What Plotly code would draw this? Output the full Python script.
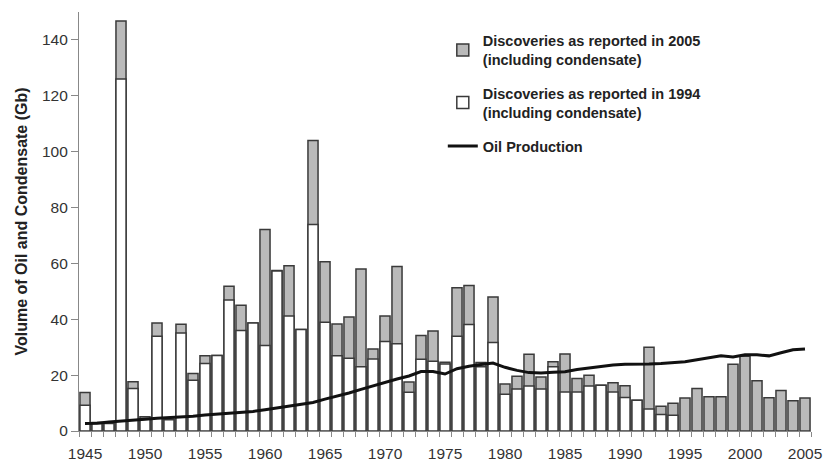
import plotly.graph_objects as go

years = list(range(1945, 2006))

reported_2005 = [13.8, 3.0, 3.0, 146.8, 17.6, 5.1, 38.7, 4.2, 38.2, 20.6,
                 26.9, 27.0, 51.8, 45.0, 38.7, 72.1, 57.5, 59.2, 36.3, 104.0,
                 60.6, 38.3, 40.8, 58.0, 29.4, 41.2, 58.9, 17.5, 34.2, 35.8,
                 24.6, 51.3, 52.1, 24.5, 48.0, 16.8, 19.6, 27.5, 19.3, 24.8,
                 27.6, 18.8, 20.0, 16.4, 17.3, 16.2, 11.0, 30.0, 8.9, 9.9,
                 11.8, 15.2, 12.3, 12.3, 23.9, 26.8, 18.0, 11.9, 14.5, 10.8,
                 11.8]

reported_1994 = [9.2, 2.7, 2.7, 126.0, 15.2, 4.5, 33.9, 4.0, 35.1, 18.2,
                 24.2, 27.0, 46.9, 36.0, 38.7, 30.6, 57.3, 41.2, 36.3, 73.9,
                 38.9, 26.9, 26.0, 23.0, 25.8, 32.0, 31.2, 13.9, 25.7, 25.0,
                 24.0, 33.9, 38.1, 23.0, 31.7, 13.2, 15.0, 16.1, 15.0, 23.0,
                 14.0, 14.0, 16.1, 16.4, 14.0, 12.0, 11.0, 7.9, 5.9, 5.6,
                 None, None, None, None, None, None, None, None, None, None,
                 None]

oil_production = [2.7, 2.8, 3.2, 3.5, 3.7, 4.2, 4.6, 4.8, 5.0, 5.3,
                  5.7, 6.0, 6.3, 6.5, 7.0, 7.6, 8.2, 8.9, 9.5, 10.2,
                  11.4, 12.4, 13.6, 14.9, 16.2, 17.5, 18.6, 19.7, 21.3, 21.3,
                  20.4, 22.3, 23.2, 23.8, 24.3, 22.8, 21.7, 20.9, 20.8, 21.0,
                  21.2, 22.0, 22.6, 23.2, 23.6, 23.9, 23.9, 24.0, 24.2, 24.4,
                  24.8, 25.5, 26.3, 26.9, 26.5, 27.3, 27.3, 26.9, 28.0, 29.1,
                  29.4]

x_tick_labels = [1945, 1950, 1955, 1960, 1965, 1970, 1975, 1980, 1985, 1990, 1995, 2000, 2005]
y_tick_values = [0, 20, 40, 60, 80, 100, 120, 140]

FONT = "Liberation Sans, Arial, sans-serif"
OUTLINE = "#3a3a3a"

fig = go.Figure()
fig.add_trace(go.Bar(
    x=years, y=reported_2005,
    name="Discoveries as reported in 2005<br>(including condensate)",
    legendgroup="g2005",
    marker=dict(color="#bababa", line=dict(color=OUTLINE, width=1.5)),
    width=0.84,
))
fig.add_trace(go.Bar(
    x=years, y=reported_1994,
    name="Discoveries as reported in 1994<br>(including condensate)",
    legendgroup="g1994",
    marker=dict(color="#ffffff", line=dict(color=OUTLINE, width=1.5)),
    width=0.84,
))
fig.add_trace(go.Scatter(
    x=years, y=oil_production, mode="lines",
    name="Oil Production",
    legendgroup="gprod",
    line=dict(color="#111111", width=3),
))

fig.update_layout(
    barmode="overlay",
    width=825, height=465,
    margin=dict(l=79, r=14, t=12, b=34),
    paper_bgcolor="white", plot_bgcolor="white",
    font=dict(family=FONT, color="#333333"),
    legend=dict(
        x=0.497, y=0.97, xanchor="left", yanchor="top",
        font=dict(size=14.5, family=FONT, color="#222222", weight="bold"),
        bgcolor="rgba(255,255,255,0)",
        tracegroupgap=12,
        traceorder="grouped",
    ),
    showlegend=True,
)
fig.update_xaxes(
    range=[1944.5, 2005.5],
    tickvals=x_tick_labels,
    ticktext=[str(v) for v in x_tick_labels],
    ticks="", showgrid=False, zeroline=False,
    showline=True, linecolor="#888888", linewidth=1.2,
    tickfont=dict(size=15.5, family=FONT, color="#333333"),
    ticklabelstandoff=8,
    automargin=False,
    minor=dict(tick0=1944.5, dtick=1, ticks="outside", ticklen=5,
               tickcolor="#888888", showgrid=False),
)
fig.update_yaxes(
    range=[0, 150],
    tickvals=y_tick_values,
    ticks="outside", ticklen=7, tickcolor="#888888",
    showgrid=False, zeroline=False,
    showline=True, linecolor="#888888", linewidth=1.2,
    tickfont=dict(size=15.5, family=FONT, color="#333333"),
    automargin=False,
    title=dict(text="Volume of Oil and Condensate (Gb)",
               font=dict(size=16, family=FONT, color="#222222", weight="bold"),
               standoff=10),
)

fig.write_html("out.html", config={"displayModeBar": False},
               post_script="document.body.style.margin='0';")
